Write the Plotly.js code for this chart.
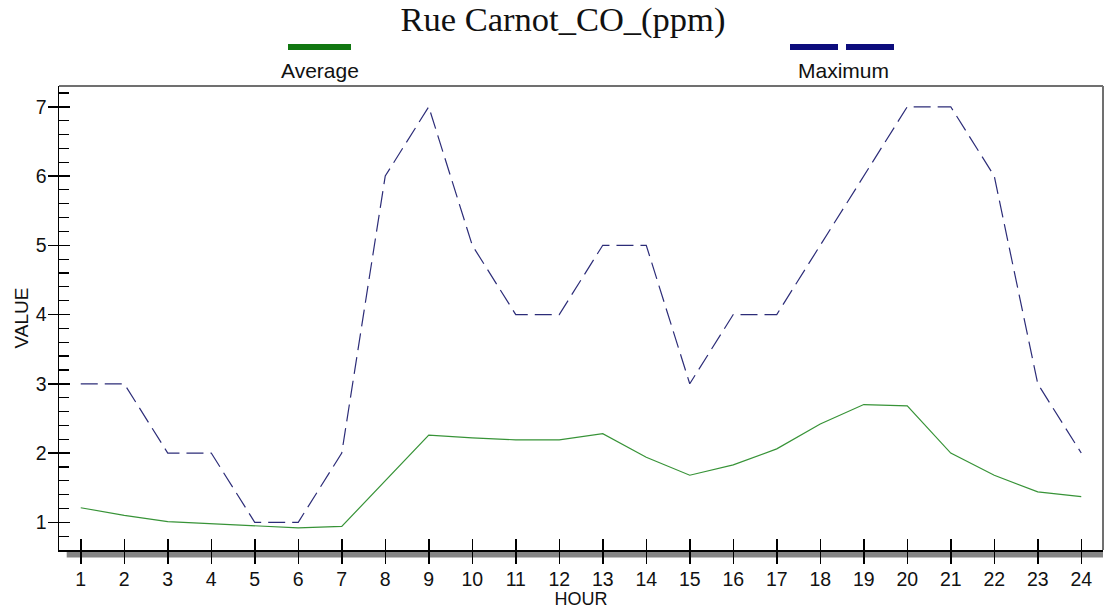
<!DOCTYPE html>
<html>
<head>
<meta charset="utf-8">
<script src="https://cdn.plot.ly/plotly-3.0.1.min.js"></script>
<style>
  html, body { margin: 0; padding: 0; background: #ffffff; }
  #chart { width: 1104px; height: 609px; }
</style>
</head>
<body>
<div id="chart"></div>
<script>
// Hourly CO concentration at Rue Carnot (ppm)
const hours = [1, 2, 3, 4, 5, 6, 7, 8, 9, 10, 11, 12, 13, 14, 15, 16, 17, 18, 19, 20, 21, 22, 23, 24];
const averageCO = [1.21, 1.10, 1.01, 0.98, 0.95, 0.92, 0.94, 1.60, 2.26, 2.22, 2.19, 2.19,
                   2.28, 1.94, 1.68, 1.83, 2.06, 2.42, 2.70, 2.68, 2.00, 1.68, 1.44, 1.37];
const maximumCO = [3, 3, 2, 2, 1, 1, 2, 6, 7, 5, 4, 4, 5, 5, 3, 4, 4, 5, 6, 7, 7, 6, 3, 2];
const valueTicks = [1, 2, 3, 4, 5, 6, 7];
const seriesNames = ['Average', 'Maximum'];

const W = 1104, H = 609;
const M = { l: 59, r: 1, t: 86, b: 59 };
const plotW = W - M.l - M.r, plotH = H - M.t - M.b;
// pixel -> paper helpers for decorations outside the plot area
const px = x => (x - M.l) / plotW;
const py = y => (H - M.b - y) / plotH;

const sans = 'Arial, "Liberation Sans", sans-serif';
const xRange = [0.5, 24.5];
const yRange = [0.6, 7.3];

const traces = [
  {
    x: hours, y: averageCO, name: seriesNames[0], type: 'scatter', mode: 'lines',
    line: { color: '#379337', width: 1.2 }, xaxis: 'x', yaxis: 'y', showlegend: false
  },
  {
    x: hours, y: maximumCO, name: seriesNames[1], type: 'scatter', mode: 'lines',
    line: { color: '#2c2c78', width: 1.2, dash: '17px,7px' }, xaxis: 'x2', yaxis: 'y2', showlegend: false
  }
];

const layout = {
  width: W, height: H,
  margin: M,
  paper_bgcolor: '#ffffff', plot_bgcolor: '#ffffff',
  showlegend: false,
  title: {
    text: 'Rue Carnot_CO_(ppm)',
    font: { family: '"Liberation Serif", "Times New Roman", serif', size: 34.5, color: '#111111' },
    xref: 'container', x: 563 / W, xanchor: 'center',
    yref: 'container', y: 1 - 19 / H, yanchor: 'middle'
  },
  xaxis: {
    range: xRange, tickmode: 'array', tickvals: hours, ticktext: hours.map(String),
    ticks: 'outside', ticklen: 12, tickwidth: 1.5, tickcolor: '#000000',
    showline: true, linecolor: '#000000', linewidth: 1.5,
    showgrid: false, zeroline: false, ticklabelstandoff: -1,
    tickfont: { family: sans, size: 19.5, color: '#111111' },
    title: { text: 'HOUR', font: { family: sans, size: 18, color: '#111111' }, standoff: 4 }
  },
  xaxis2: {
    overlaying: 'x', anchor: 'y', side: 'bottom', range: xRange,
    tickmode: 'array', tickvals: hours, showticklabels: false,
    ticks: 'inside', ticklen: 11, tickwidth: 1.5, tickcolor: '#000000',
    showline: false, showgrid: false, zeroline: false
  },
  yaxis: {
    range: yRange, tickmode: 'array', tickvals: valueTicks, ticktext: valueTicks.map(String),
    ticks: 'outside', ticklen: 10, tickwidth: 1.5, tickcolor: '#000000',
    showline: true, linecolor: '#000000', linewidth: 1.5,
    showgrid: false, zeroline: false, ticklabelstandoff: -3,
    tickfont: { family: sans, size: 19.5, color: '#111111' },
    title: { text: 'VALUE', font: { family: sans, size: 19, color: '#111111' }, standoff: 2 }
  },
  yaxis2: {
    overlaying: 'y', anchor: 'x', side: 'left', range: yRange,
    tickmode: 'linear', tick0: 0, dtick: 1, showticklabels: false,
    ticks: 'inside', ticklen: 11, tickwidth: 1.5, tickcolor: '#000000',
    minor: { ticks: 'inside', tick0: 0, dtick: 0.2, ticklen: 10, tickwidth: 1.2, tickcolor: '#000000' },
    showline: false, showgrid: false, zeroline: false
  },
  shapes: [
    // shadow band under the hour axis
    { type: 'rect', xref: 'paper', yref: 'paper', layer: 'below',
      x0: px(66.7), x1: 1, y0: py(557.5), y1: py(551), fillcolor: '#858585', line: { width: 0 } },
    // top and right frame
    { type: 'line', xref: 'paper', yref: 'paper', x0: 0, x1: 1, y0: 1, y1: 1,
      line: { color: '#707070', width: 2 } },
    { type: 'line', xref: 'paper', yref: 'paper', x0: 1, x1: 1, y0: 0, y1: 1,
      line: { color: '#707070', width: 2 } },
    // legend swatches
    { type: 'line', xref: 'paper', yref: 'paper', x0: px(288), x1: px(351), y0: py(47), y1: py(47),
      line: { color: '#117711', width: 6 } },
    { type: 'line', xref: 'paper', yref: 'paper', x0: px(790), x1: px(895), y0: py(47), y1: py(47),
      line: { color: '#0c0c7c', width: 6, dash: '48px,8px' } }
  ],
  annotations: [
    { xref: 'paper', yref: 'paper', x: px(319.5), y: py(71), xanchor: 'center', yanchor: 'middle',
      text: seriesNames[0], showarrow: false, font: { family: sans, size: 21, color: '#111111' } },
    { xref: 'paper', yref: 'paper', x: px(843), y: py(71), xanchor: 'center', yanchor: 'middle',
      text: seriesNames[1], showarrow: false, font: { family: sans, size: 21, color: '#111111' } }
  ]
};

Plotly.newPlot('chart', traces, layout, { staticPlot: true, displayModeBar: false });
</script>
</body>
</html>
